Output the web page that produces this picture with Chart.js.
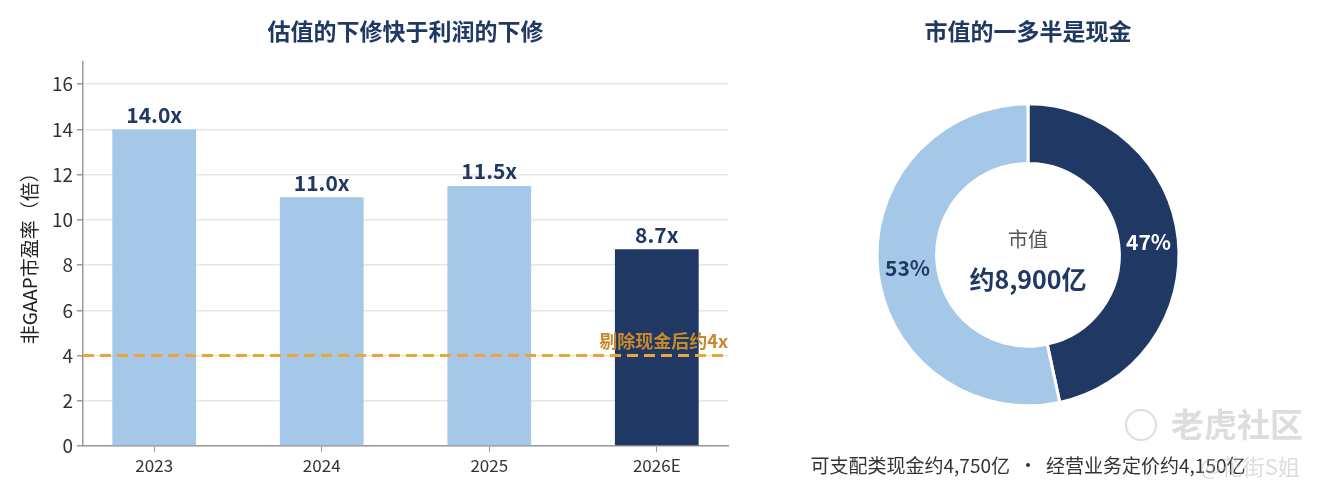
<!DOCTYPE html>
<html><head><meta charset="utf-8">
<script src="https://cdn.jsdelivr.net/npm/chart.js@4"></script>
<style>
html,body{margin:0;padding:0;background:#fff;}
body{width:1329px;height:500px;overflow:hidden;position:relative;}
#w1{position:absolute;left:0;top:0;width:740px;height:500px;}
#w2{position:absolute;left:727px;top:0;width:602px;height:500px;}
</style></head><body>
<div id="w1"><canvas id="c1"></canvas></div>
<div id="w2"><canvas id="c2"></canvas></div>
<script>
// ---- data ----
const years = ['2023', '2024', '2025', '2026E'];
const peValues = [14.0, 11.0, 11.5, 8.7];
const yTicks = [0, 2, 4, 6, 8, 10, 12, 14, 16];
const exCashPE = 4;
const exCashLabel = '剔除现金后约4x';
const donutLabels = ['经营业务定价', '可支配类现金'];
const donutValues = [4150, 4750];
const leftTitle = '估值的下修快于利润的下修';
const rightTitle = '市值的一多半是现金';
const yAxisTitle = '非GAAP市盈率（倍）';

const NAVY = '#1F3864';
const LIGHT = '#A6C8E8';
const ORANGE = '#E8A838';
const ORANGE_TXT = '#C8892C';
const FONT = '"Noto Sans CJK SC", "Noto Sans", sans-serif';

Chart.defaults.font.family = FONT;
Chart.defaults.animation = false;

// ---- left bar chart ----
const barLabelPlugin = {
  id: 'barLabels',
  afterDatasetsDraw(chart) {
    const ctx = chart.ctx;
    const meta = chart.getDatasetMeta(0);
    ctx.save();
    ctx.font = 'bold 21px ' + FONT;
    ctx.fillStyle = NAVY;
    ctx.textAlign = 'center';
    ctx.textBaseline = 'bottom';
    meta.data.forEach((el, i) => {
      ctx.fillText(peValues[i].toFixed(1) + 'x', el.x, el.y - 4);
    });
    // reference line
    const y = chart.scales.y.getPixelForValue(exCashPE);
    const a = chart.chartArea;
    ctx.strokeStyle = ORANGE;
    ctx.lineWidth = 3;
    ctx.setLineDash([11, 6]);
    ctx.beginPath();
    ctx.moveTo(a.left, y);
    ctx.lineTo(a.right, y);
    ctx.stroke();
    ctx.setLineDash([]);
    ctx.font = 'bold 18px ' + FONT;
    ctx.fillStyle = ORANGE_TXT;
    ctx.textAlign = 'right';
    ctx.textBaseline = 'bottom';
    ctx.fillText(exCashLabel, a.right, y - 5);
    ctx.restore();
  }
};

new Chart(document.getElementById('c1'), {
  type: 'bar',
  data: {
    datasets: [{
      data: peValues.map((v, i) => ({ x: i, y: v })),
      backgroundColor: peValues.map((v, i) => i === peValues.length - 1 ? NAVY : LIGHT),
      barPercentage: 0.5,
      categoryPercentage: 1.0
    }]
  },
  options: {
    responsive: true,
    maintainAspectRatio: false,
    layout: { padding: { left: 18, right: 12, top: 0, bottom: 0 } },
    plugins: {
      legend: { display: false },
      tooltip: { enabled: false },
      title: {
        display: true, text: leftTitle, color: NAVY, fullSize: false,
        font: { size: 23, weight: 'bold' },
        padding: { top: 17, bottom: 17 }
      }
    },
    scales: {
      x: {
        type: 'linear', min: -0.425, max: 3.425, offset: false,
        afterBuildTicks: s => { s.ticks = years.map((_, i) => ({ value: i })); },
        afterFit: s => { s.height = 54; },
        ticks: { callback: v => years[v], color: '#333', font: { size: 17 }, padding: 3, maxRotation: 0 },
        grid: { offset: false, drawOnChartArea: false, drawTicks: true, tickLength: 6, tickColor: '#999' },
        border: { display: true, color: '#999', width: 1.5 }
      },
      y: {
        min: 0, max: 17,
        afterBuildTicks: s => { s.ticks = yTicks.map(v => ({ value: v })); },
        afterFit: s => { s.width = 65; },
        ticks: { color: '#333', font: { size: 19 }, padding: 4 },
        grid: { color: '#E6E6E6', lineWidth: 1.5, drawTicks: true, tickLength: 6, tickColor: '#999' },
        border: { display: true, color: '#999', width: 1.5 },
        title: { display: true, text: yAxisTitle, color: '#222', font: { size: 19 }, padding: 0 }
      }
    }
  },
  plugins: [barLabelPlugin]
});

// ---- right doughnut ----
const total = donutValues.reduce((a, b) => a + b, 0);
const donutPlugin = {
  id: 'donutText',
  afterDatasetsDraw(chart) {
    const ctx = chart.ctx;
    const meta = chart.getDatasetMeta(0);
    ctx.save();
    ctx.textAlign = 'center';
    ctx.textBaseline = 'middle';
    ctx.font = 'bold 21px ' + FONT;
    meta.data.forEach((arc, i) => {
      const p = arc.getCenterPoint();
      ctx.fillStyle = i === 0 ? '#FFFFFF' : NAVY;
      ctx.fillText(Math.round(donutValues[i] / total * 100) + '%', p.x, p.y);
    });
    const cx = (chart.chartArea.left + chart.chartArea.right) / 2;
    const cy = (chart.chartArea.top + chart.chartArea.bottom) / 2;
    ctx.fillStyle = '#555';
    ctx.font = '20px ' + FONT;
    ctx.fillText('市值', cx, cy - 15);
    ctx.fillStyle = NAVY;
    ctx.font = 'bold 25px ' + FONT;
    ctx.fillText('约' + total.toLocaleString('en-US') + '亿', cx, cy + 25);
    // caption
    ctx.fillStyle = '#333';
    ctx.font = '19px ' + FONT;
    ctx.fillText(donutLabels[1] + '约' + donutValues[1].toLocaleString('en-US') + '亿  ·  ' +
                 donutLabels[0] + '约' + donutValues[0].toLocaleString('en-US') + '亿', cx, 466);
    // watermark
    ctx.globalAlpha = 0.5;
    ctx.strokeStyle = '#BBBBBB';
    ctx.lineWidth = 2;
    ctx.beginPath();
    ctx.arc(cx + 113, 425, 15, 0, Math.PI * 2);
    ctx.stroke();
    ctx.fillStyle = '#BBBBBB';
    ctx.font = 'bold 33px ' + FONT;
    ctx.textAlign = 'left';
    ctx.fillText('老虎社区', cx + 143, 424);
    ctx.font = '22px ' + FONT;
    ctx.fillText('@花街S姐', cx + 172, 467);
    ctx.restore();
  }
};

new Chart(document.getElementById('c2'), {
  type: 'doughnut',
  data: {
    labels: donutLabels,
    datasets: [{
      data: donutValues,
      backgroundColor: [NAVY, LIGHT],
      borderColor: '#FFFFFF',
      borderWidth: 3
    }]
  },
  options: {
    responsive: true,
    maintainAspectRatio: false,
    radius: 151,
    cutout: '60.5%',
    layout: { padding: { left: 0, right: 0, top: 0, bottom: 52 } },
    plugins: {
      legend: { display: false },
      tooltip: { enabled: false },
      title: {
        display: true, text: rightTitle, color: NAVY,
        font: { size: 23, weight: 'bold' },
        padding: { top: 17, bottom: 17 }
      }
    }
  },
  plugins: [donutPlugin]
});
</script>
</body></html>
